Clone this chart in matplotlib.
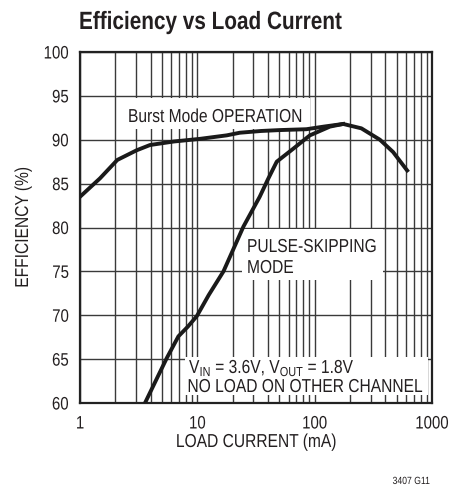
import matplotlib
matplotlib.use("Agg")
from matplotlib import pyplot
import matplotlib.ticker
from matplotlib.patches import Rectangle
from matplotlib.patheffects import AbstractPathEffect
from matplotlib.transforms import Affine2D

pyplot.rcParams['font.family'] = ['Liberation Sans', 'DejaVu Sans']
TXT = '#231f20'

# Burst Mode OPERATION curve (mA, %)
burst_current = [1, 1.48, 2.08, 3.04, 3.95, 6.3, 10.5, 17.8, 23, 35, 50, 85, 120, 175, 250, 360, 466, 614]
burst_eff = [83.5, 85.6, 87.7, 88.8, 89.4, 89.8, 90.1, 90.5, 90.8, 91.0, 91.1, 91.2, 91.5, 91.8, 91.3, 90.0, 88.6, 86.5]

# PULSE-SKIPPING MODE curve (mA, %)
pulse_current = [3.58, 5.48, 6.9, 8.3, 9.9, 12.5, 16.7, 24.7, 34, 40, 47.5, 66, 91, 135, 175]
pulse_eff = [60.0, 65.1, 67.6, 68.7, 69.9, 72.3, 75.0, 80.1, 83.5, 85.5, 87.5, 89.0, 90.5, 91.5, 91.8]

x_ticks = [1, 10, 100, 1000]
y_ticks = [60, 65, 70, 75, 80, 85, 90, 95, 100]

W, H = 449, 486


class Squeeze(AbstractPathEffect):
    """narrow the glyphs (the original uses a condensed face)"""
    def __init__(self, anchor='left', sx=0.83):
        super().__init__()
        self.anchor = anchor
        self.sx = sx

    def draw_path(self, renderer, gc, tpath, affine, rgbFace=None):
        ext = tpath.get_extents()
        cx = {'left': 0.0, 'center': (ext.x0 + ext.x1) / 2, 'right': ext.x1}[self.anchor]
        t = Affine2D().translate(-cx, 0).scale(self.sx, 1).translate(cx, 0) + affine
        renderer.draw_path(gc, tpath, t, rgbFace)


def fx(px):
    return px / W


def fy(py):
    return 1 - py / H


fig = pyplot.figure(figsize=(W / 100, H / 100), dpi=100, facecolor='w')
ax = fig.add_axes([fx(80), fy(403), (432 - 80) / W, (403 - 52) / H])
ax.set_xscale('log')
ax.set_xlim(1, 1000)
ax.set_ylim(60, 100)
ax.set_xticks(x_ticks)
ax.xaxis.set_major_formatter(matplotlib.ticker.FuncFormatter(lambda v, p: "{:g}".format(v)))
ax.xaxis.set_minor_locator(matplotlib.ticker.LogLocator(base=10, subs=range(2, 10)))
ax.xaxis.set_minor_formatter(matplotlib.ticker.NullFormatter())
ax.set_yticks(y_ticks)
ax.tick_params(which='both', length=0, labelsize=13, colors=TXT)
ax.tick_params(axis='x', pad=9)
ax.tick_params(axis='y', pad=8)
ax.set_axisbelow(True)
ax.grid(which='both', axis='x', color='#3a3a3a', linewidth=1.0)
ax.grid(which='major', axis='y', color='#3a3a3a', linewidth=1.0)
for s in ax.spines.values():
    s.set_linewidth(1.6)
    s.set_color('#222222')
for lbl in ax.get_xticklabels():
    lbl.set_path_effects([Squeeze('center')])
for lbl in ax.get_yticklabels():
    lbl.set_path_effects([Squeeze('right')])

ax.plot(burst_current, burst_eff, color='#1a1a1a', linewidth=2.8, zorder=3)
ax.plot(pulse_current, pulse_eff, color='#1a1a1a', linewidth=2.8, zorder=3)

# white boxes behind the notes
for x0, y0, x1, y1 in [(122, 98, 310, 129), (242, 229, 383, 280), (185, 357, 428, 395)]:
    ax.add_patch(Rectangle((fx(x0), fy(y1)), fx(x1) - fx(x0), fy(y0) - fy(y1), transform=fig.transFigure,
                           facecolor='w', edgecolor='none', zorder=2.5))

# (x, baseline, alignment, text)
notes = [
    (128, 122, 'left', "Burst Mode OPERATION"),
    (247, 252, 'left', "PULSE-SKIPPING"),
    (247, 273, 'left', "MODE"),
    (355, 373, 'right', "V$_{\\mathregular{IN}}$ = 3.6V, V$_{\\mathregular{OUT}}$ = 1.8V"),
    (422, 392, 'right', "NO LOAD ON OTHER CHANNEL"),
]
for px, py, ha, s in notes:
    ax.text(fx(px), fy(py), s, transform=fig.transFigure, fontsize=13.5, ha=ha, va='baseline',
            color=TXT, zorder=4, path_effects=[Squeeze(ha)])

ax.set_xlabel("LOAD CURRENT (mA)", fontsize=13.5, color=TXT, path_effects=[Squeeze('center')])
ax.set_ylabel("EFFICIENCY (%)", fontsize=13.5, color=TXT, path_effects=[Squeeze('center')])
ax.xaxis.set_label_coords(0.5, -(434 - 403) / 351)
ax.yaxis.set_label_coords(-(80 - 32) / 352, 0.5)

fig.text(fx(79), fy(29), "Efficiency vs Load Current", fontsize=18, fontweight='bold', ha='left',
         va='baseline', color=TXT, path_effects=[Squeeze('left')])
fig.text(fx(430), fy(484), "3407 G11", fontsize=7.5, ha='right', va='baseline', color=TXT,
         path_effects=[Squeeze('right')])

fig.savefig("out.png", dpi=100, facecolor='w')
